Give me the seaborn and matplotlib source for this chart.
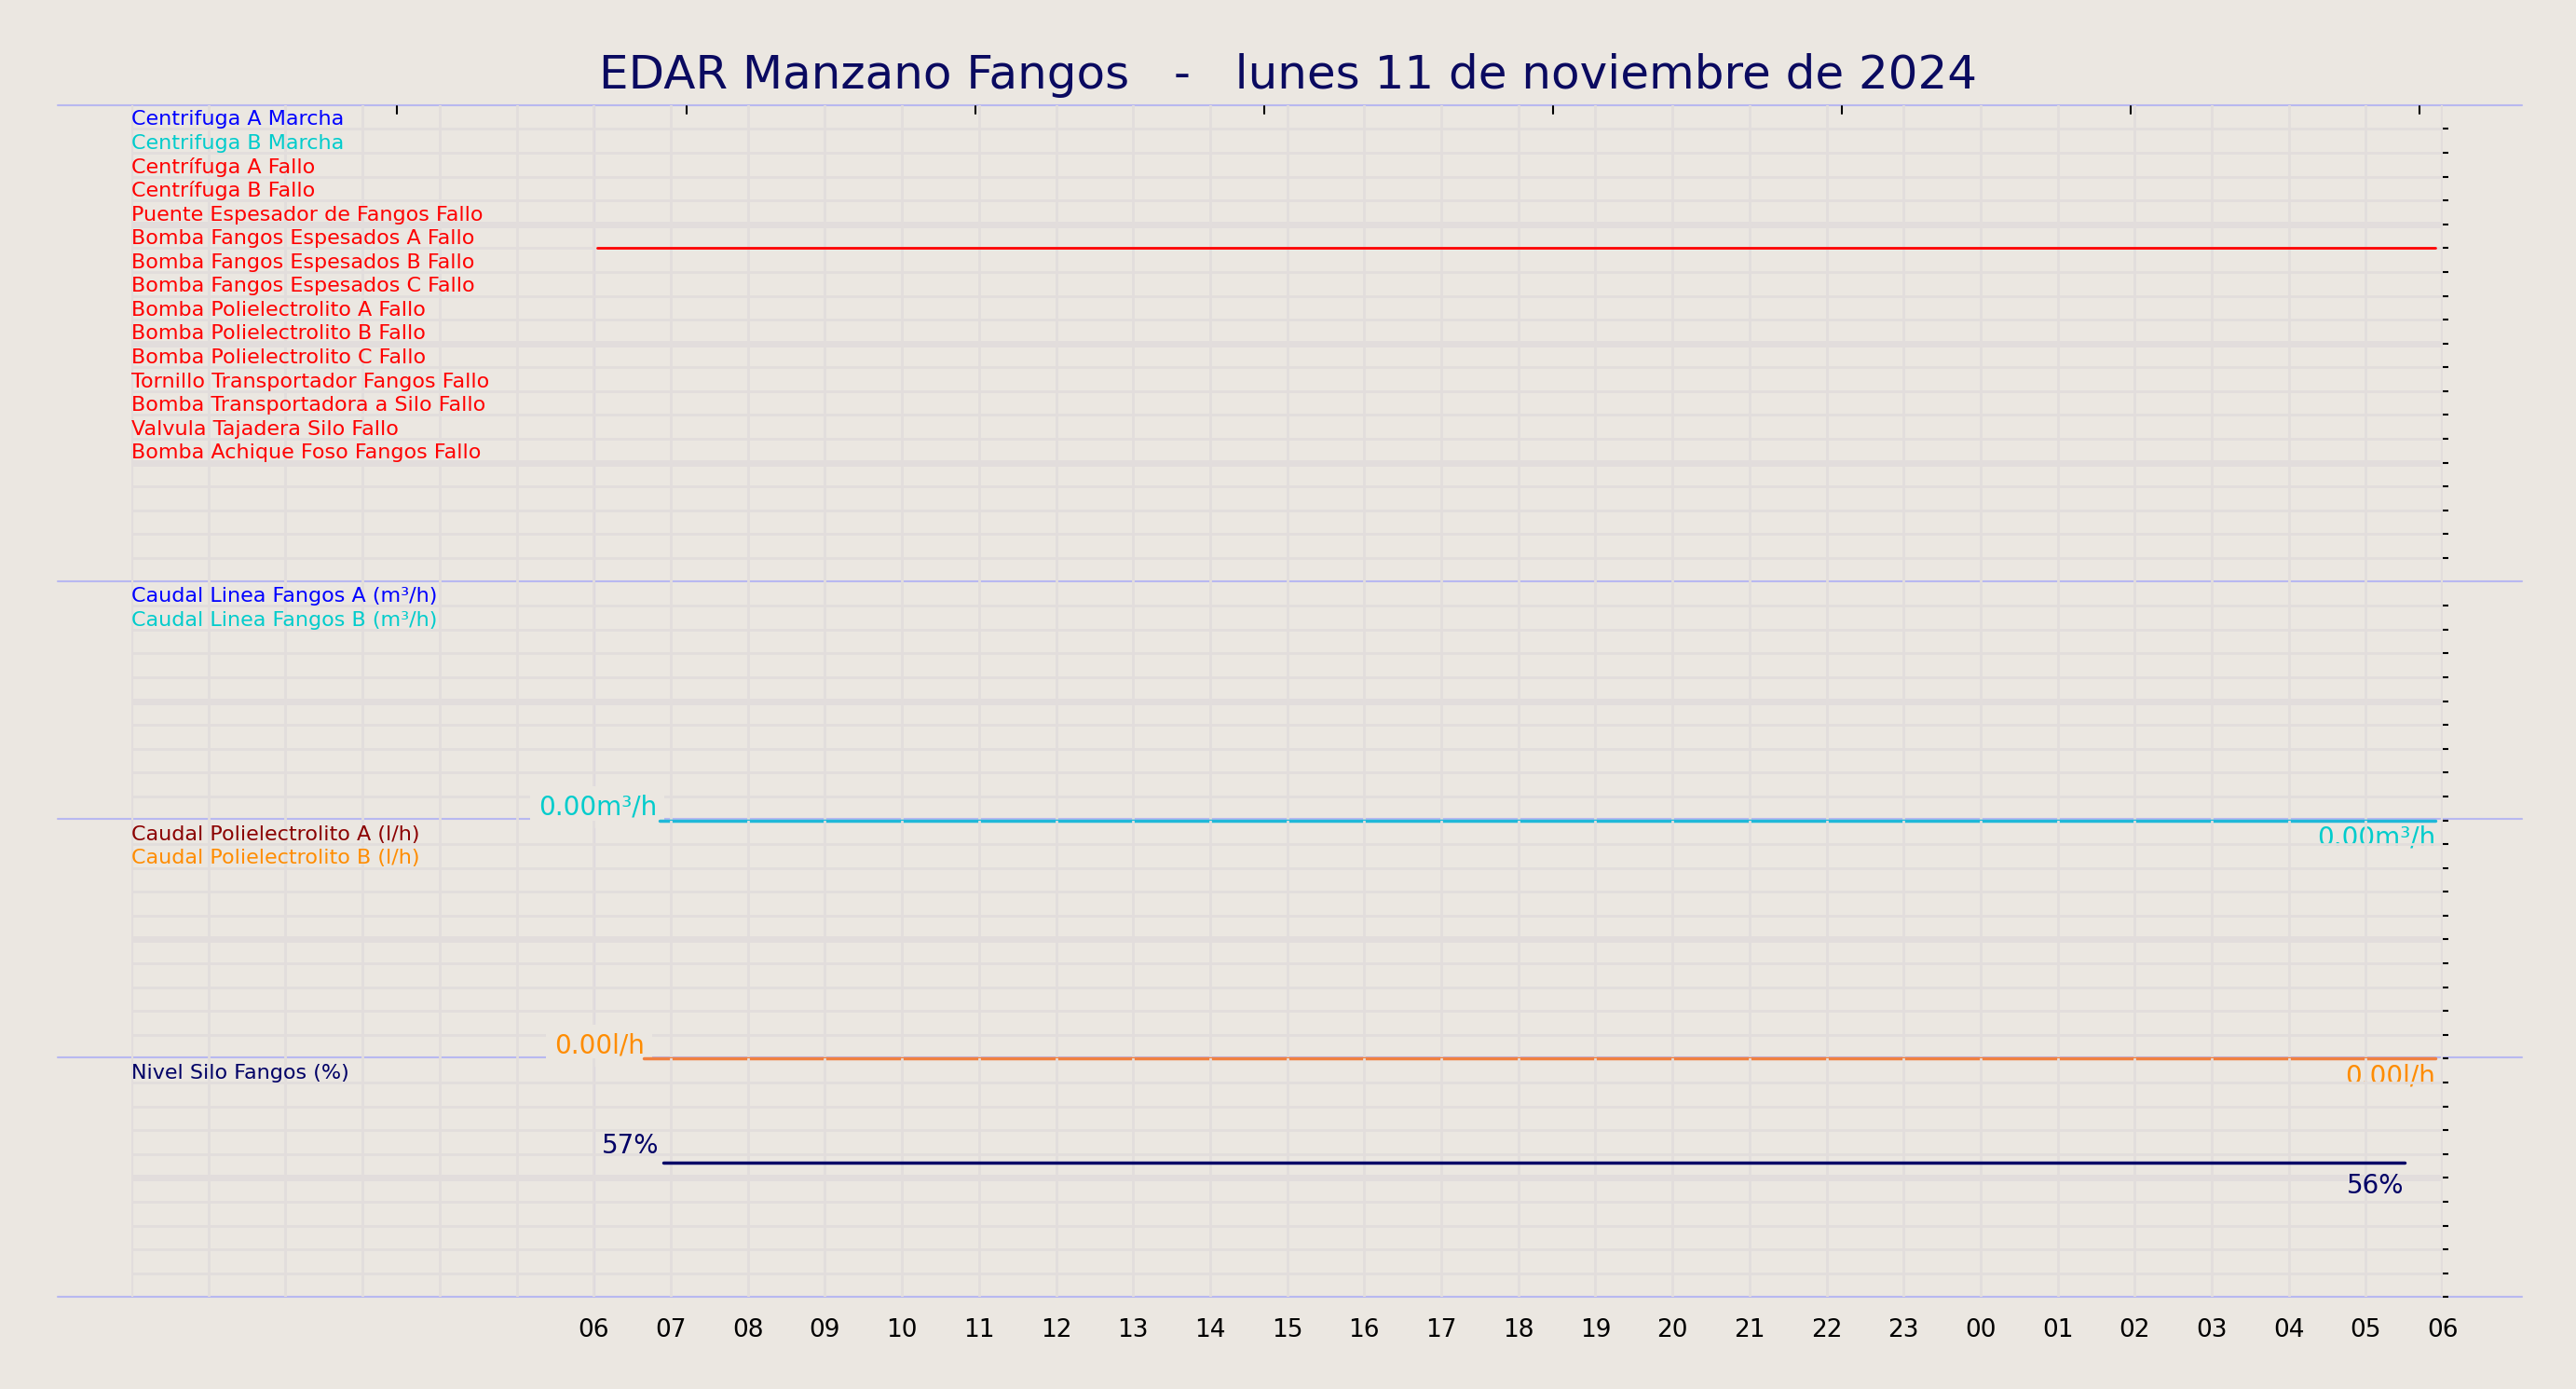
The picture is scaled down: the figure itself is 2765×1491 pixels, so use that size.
import matplotlib
matplotlib.use("Agg")
import matplotlib.pyplot as plt
import seaborn as sns
import numpy as np
import pandas as pd

sns.set_theme(style="white")
plt.rcParams['font.family'] = ['DejaVu Sans']

title = "EDAR Manzano Fangos   -   lunes 11 de noviembre de 2024"
tick_hours = list(range(6, 31))
tick_labels = ["%02d" % (h % 24) for h in tick_hours]

dig_labels = ["Centrifuga A Marcha", "Centrifuga B Marcha", "Centrífuga A Fallo", "Centrífuga B Fallo",
              "Puente Espesador de Fangos Fallo", "Bomba Fangos Espesados A Fallo",
              "Bomba Fangos Espesados B Fallo", "Bomba Fangos Espesados C Fallo",
              "Bomba Polielectrolito A Fallo", "Bomba Polielectrolito B Fallo",
              "Bomba Polielectrolito C Fallo", "Tornillo Transportador Fangos Fallo",
              "Bomba Transportadora a Silo Fallo", "Valvula Tajadera Silo Fallo",
              "Bomba Achique Foso Fangos Fallo"]
dig_colors = ["#0000ff", "#00cccc"] + ["#ff0000"] * 13
dig_row = [6.0, 6.0]
dig_x = [6.05, 29.9]

cauA_label, cauB_label = "Caudal Linea Fangos A (m³/h)", "Caudal Linea Fangos B (m³/h)"
cau_x = [6.85, 29.9]
cau_y = [0.0, 0.0]
polA_label, polB_label = "Caudal Polielectrolito A (l/h)", "Caudal Polielectrolito B (l/h)"
pol_x = [6.65, 29.9]
pol_y = [0.0, 0.0]
niv_label = "Nivel Silo Fangos (%)"
niv_x = [6.9, 29.5]
niv_y = [56.2, 56.2]

BG = "#ebe7e1"
GRID = "#e2dddc"
SEP = "#b8b8f0"

fig = plt.figure(figsize=(27.65, 14.91), dpi=100, facecolor=BG)
L, R, T, B = 80/1568, 1487/1568, 1-64/846, 1-790/846
H = T - B
heights = [20, 10, 10, 10]
tot = sum(heights)
axes = []
top = T
for h in heights:
    hh = H * h / tot
    ax = fig.add_axes([L, top - hh, R - L, hh])
    ax.patch.set_alpha(0)
    top -= hh
    axes.append(ax)

for ax, nrows in zip(axes, heights):
    ax.set_xlim(0, 30)
    ax.set_ylim(nrows, 0)
    for s in ax.spines.values():
        s.set_visible(False)
    for hx in range(1, 30):
        ax.axvline(hx, color=GRID, lw=2, zorder=0)
    for r in range(1, nrows):
        ax.axhline(r, color=GRID, lw=5 if r % 5 == 0 else 2, zorder=0)
    ax.axvline(0, color=GRID, lw=3, zorder=0)
    ax.axvline(30, color=GRID, lw=3, zorder=0)
    ax.set_xticks([])
    ax.yaxis.tick_right()
    ax.set_yticks(np.arange(1, nrows + (1 if ax is not axes[0] else 0)))
    ax.tick_params(axis='y', right=True, length=4, width=1.5, color='black', labelright=False, direction='out')

for yy in [64, 354, 499, 644, 790]:
    fig.add_artist(plt.Line2D([35/1568, 1535/1568], [1-yy/846]*2, color=SEP, lw=1.5, zorder=0))
fig.add_artist(plt.Line2D([362/1568]*2, [B, T], color=SEP, lw=1.5, zorder=0))

ax0 = axes[0]
for tx in np.arange(3.45, 30, 3.75):
    ax0.plot([tx, tx], [0.05, 0.35], color='black', lw=1.5)

fs = 16
for i, (lab, c) in enumerate(zip(dig_labels, dig_colors)):
    ax0.text(0.0, i + 0.6, lab, color=c, fontsize=fs, va='center', ha='left')
sns.lineplot(x=dig_x, y=dig_row, ax=ax0, color="#ff0000", lw=2)

ax1 = axes[1]
ax1.text(0.0, 0.6, cauA_label, color="#0000ff", fontsize=fs, va='center')
ax1.text(0.0, 1.6, cauB_label, color="#00cccc", fontsize=fs, va='center')
sns.lineplot(x=cau_x, y=[10 - v for v in cau_y], ax=ax1, color="#20b8d8", lw=2.5, clip_on=False, zorder=6)
ax1.text(6.05, 10.0, "%.2fm³/h" % cau_y[0], color="#00cccc", fontsize=20, ha='center', va='bottom',
         bbox=dict(facecolor=BG, edgecolor='none', pad=6), zorder=5)
ax1.text(29.9, 10.2, "%.2fm³/h" % cau_y[-1], color="#00cccc", fontsize=20, ha='right', va='top', clip_on=False)

ax2 = axes[2]
ax2.text(0.0, 0.6, polA_label, color="#8b0000", fontsize=fs, va='center')
ax2.text(0.0, 1.6, polB_label, color="#ff8c00", fontsize=fs, va='center')
sns.lineplot(x=pol_x, y=[10 - v for v in pol_y], ax=ax2, color="#f08040", lw=2.5, clip_on=False, zorder=6)
ax2.text(6.07, 10.0, "%.2fl/h" % pol_y[0], color="#ff8c00", fontsize=20, ha='center', va='bottom',
         bbox=dict(facecolor=BG, edgecolor='none', pad=6), zorder=5)
ax2.text(29.9, 10.2, "%.2fl/h" % pol_y[-1], color="#ff8c00", fontsize=20, ha='right', va='top', clip_on=False)

ax3 = axes[3]
ax3.text(0.0, 0.6, niv_label, color="#000066", fontsize=fs, va='center')
sns.lineplot(x=niv_x, y=[10 - v / 10 for v in niv_y], ax=ax3, color="#000066", lw=2.5)
ax3.text(6.85, 4.2, "57%", color="#000066", fontsize=20, ha='right', va='bottom')
ax3.text(29.5, 4.8, "56%", color="#000066", fontsize=20, ha='right', va='top')
ax3.set_xticks(tick_hours)
ax3.set_xticklabels(tick_labels, fontsize=19, color='black')
ax3.tick_params(axis='x', bottom=False, pad=10)

for ax in axes:
    ax.set_xlabel(""); ax.set_ylabel("")
    if ax.get_legend():
        ax.get_legend().remove()

fig.text(0.5, 1 - 46/846, title, ha='center', va='center', fontsize=36, color="#0a0a60")
fig.savefig("out.png", dpi=100, facecolor=BG)
